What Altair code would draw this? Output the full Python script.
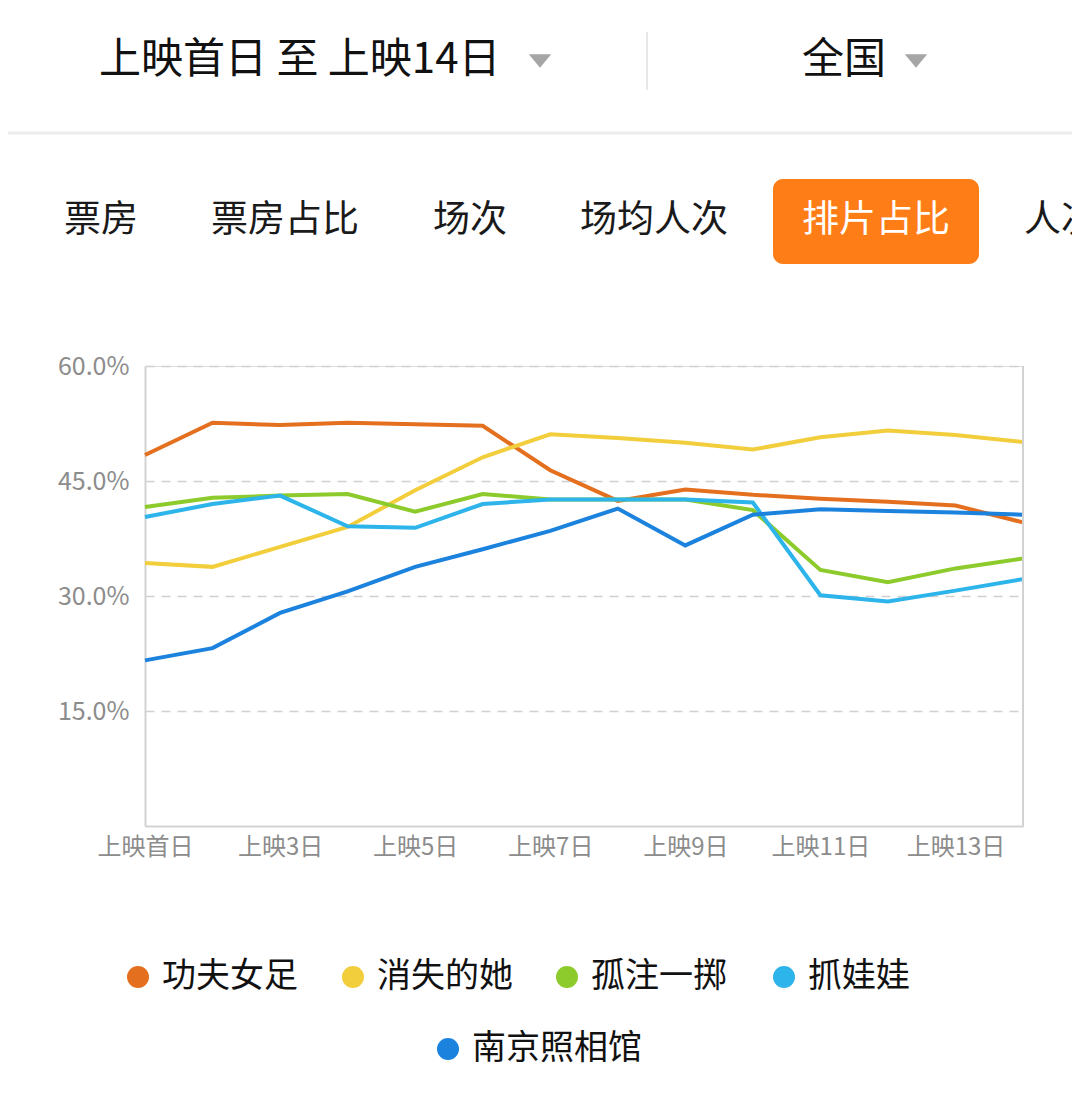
import altair as alt
import pandas as pd

FONT = "Noto Sans CJK SC"

days = ["上映首日", "上映2日", "上映3日", "上映4日", "上映5日", "上映6日", "上映7日",
        "上映8日", "上映9日", "上映10日", "上映11日", "上映12日", "上映13日", "上映14日"]
tick_days = ["上映首日", "上映3日", "上映5日", "上映7日", "上映9日", "上映11日", "上映13日"]
y_ticks = [15, 30, 45, 60]

names = ["功夫女足", "消失的她", "孤注一掷", "抓娃娃", "南京照相馆"]
colors = ["#E4701F", "#F2CE3C", "#8CCB2B", "#2DB4EA", "#1B82DE"]

gongfu = [48.4, 52.6, 52.3, 52.6, 52.4, 52.2, 46.4, 42.4, 43.9, 43.2, 42.7, 42.3, 41.8, 39.6]
xiaoshi = [34.3, 33.8, 36.4, 39.0, 43.8, 48.1, 51.1, 50.6, 50.0, 49.1, 50.7, 51.6, 51.0, 50.1]
guzhu = [41.6, 42.8, 43.1, 43.3, 41.0, 43.3, 42.6, 42.6, 42.6, 41.2, 33.4, 31.8, 33.6, 34.9]
zhuawawa = [40.3, 42.0, 43.1, 39.1, 38.9, 42.0, 42.6, 42.6, 42.6, 42.2, 30.1, 29.3, 30.7, 32.2]
nanjing = [21.6, 23.2, 27.8, 30.6, 33.8, 36.1, 38.5, 41.4, 36.6, 40.6, 41.3, 41.1, 40.9, 40.6]

header_left = "上映首日 至 上映14日"
header_right = "全国"
tabs = ["票房", "票房占比", "场次", "场均人次", "排片占比", "人次"]
active_tab = "排片占比"

series = [gongfu, xiaoshi, guzhu, zhuawawa, nanjing]
rows = []
for n, vals in zip(names, series):
    for i, (d, v) in enumerate(zip(days, vals)):
        rows.append({"movie": n, "day": d, "day_idx": i, "share": v})
df = pd.DataFrame(rows)

W, H = 878, 460
X0, Y0 = 145, 366  # page position of plot origin


def px(x):
    return x - X0


def py(y):
    return y - Y0


one = pd.DataFrame({"t": [""]})

lines = alt.Chart(df).mark_line(strokeWidth=4).encode(
    x=alt.X("day:O", sort=days, scale=alt.Scale(type="point", padding=0),
            axis=alt.Axis(values=tick_days, labelAngle=0, title=None, ticks=False,
                          domainColor="#d2d2d2", domainWidth=2, labelColor="#8c8c8c",
                          labelFontSize=24, labelPadding=9, grid=False,
                          labelOverlap=False, labelFont=FONT)),
    y=alt.Y("share:Q", scale=alt.Scale(domain=[0, 60], nice=False),
            axis=alt.Axis(values=y_ticks, labelExpr="format(datum.value, '.1f') + '%'",
                          title=None, ticks=False, grid=True, gridDash=[9, 7],
                          gridColor="#d0d0d0", gridWidth=1.5, domainColor="#d2d2d2",
                          domainWidth=2, labelColor="#8c8c8c", labelFontSize=25,
                          labelPadding=16, labelFont=FONT)),
    color=alt.Color("movie:N", scale=alt.Scale(domain=names, range=colors), legend=None),
    order=alt.Order("day_idx:Q"),
)

right_border = alt.Chart(one).mark_rule(color="#d2d2d2", strokeWidth=2).encode(
    x=alt.value(W), y=alt.value(0), y2=alt.value(H))


def txt(s, x, y, size, color="#111111", align="left"):
    return alt.Chart(pd.DataFrame({"t": [s]})).mark_text(
        align=align, baseline="middle", fontSize=size, color=color, font=FONT
    ).encode(x=alt.value(px(x)), y=alt.value(py(y)), text="t:N")


tri_path = "M-1,-0.6L1,-0.6L0,0.6Z"


def tri(x, y):
    return alt.Chart(one).mark_point(shape=tri_path, filled=True, color="#a6a6a6",
                                     size=500, opacity=1).encode(
        x=alt.value(px(x)), y=alt.value(py(y)))


deco = [
    txt(header_left, 99, 60, 42),
    tri(540, 61),
    txt(header_right, 802, 60, 42),
    tri(916, 61),
    alt.Chart(one).mark_rule(color="#e8e8e8", strokeWidth=2).encode(
        x=alt.value(px(647)), y=alt.value(py(32)), y2=alt.value(py(90))),
    alt.Chart(one).mark_rule(color="#ebebeb", strokeWidth=3).encode(
        x=alt.value(px(0)), x2=alt.value(px(1080)), y=alt.value(py(133))),
    alt.Chart(one).mark_rect(color="#FF7D17", cornerRadius=10).encode(
        x=alt.value(px(773)), x2=alt.value(px(979)),
        y=alt.value(py(179)), y2=alt.value(py(264))),
]

tab_x = [64, 211, 433, 580, 802, 1024]
for t, x in zip(tabs, tab_x):
    deco.append(txt(t, x, 221, 37, "#ffffff" if t == active_tab else "#1a1a1a"))

legend_pos = [(138, 977), (353, 977), (567, 977), (784, 977), (448, 1049)]
for n, c, (lx, ly) in zip(names, colors, legend_pos):
    deco.append(alt.Chart(one).mark_point(shape="circle", filled=True, color=c,
                                          size=484, opacity=1).encode(
        x=alt.value(px(lx)), y=alt.value(py(ly))))
    deco.append(txt(n, lx + 24, ly, 34))

chart = alt.layer(lines, right_border, *deco).properties(
    width=W, height=H,
    autosize=alt.AutoSizeParams(type="none"),
    padding={"left": 137, "top": 358, "right": 49, "bottom": 250},
).configure_view(stroke=None).configure(background="white")

chart.save("out.html", embed_options={"renderer": "svg", "actions": False})
